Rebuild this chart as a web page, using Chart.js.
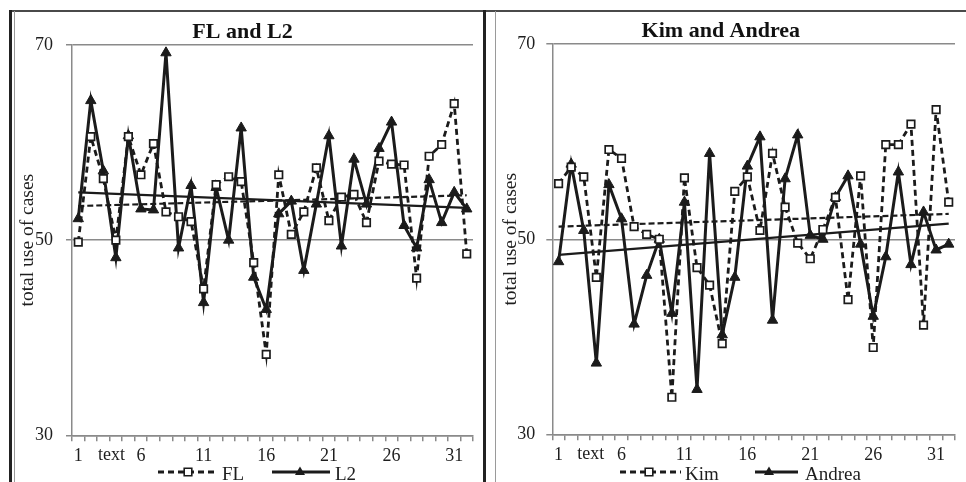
<!DOCTYPE html>
<html>
<head>
<meta charset="utf-8">
<script src="https://cdn.jsdelivr.net/npm/chart.js@4.4.1/dist/chart.umd.min.js"></script>
<style>
html,body{margin:0;padding:0;background:#fff;width:966px;height:482px;overflow:hidden;}
body{position:relative;}
.ln{position:absolute;}
#w1{position:absolute;left:12px;top:12px;width:470px;height:470px;}
#w2{position:absolute;left:486px;top:12px;width:476px;height:470px;}
</style>
</head>
<body>
<div class="ln" style="left:9px;top:10px;width:957px;height:1.5px;background:#4a4a4a"></div>
<div class="ln" style="left:9px;top:10px;width:2.5px;height:472px;background:#222"></div>
<div class="ln" style="left:14px;top:11px;width:1px;height:471px;background:#9a9a9a"></div>
<div class="ln" style="left:483px;top:10px;width:2.5px;height:472px;background:#222"></div>
<div class="ln" style="left:495px;top:11px;width:1px;height:471px;background:#9a9a9a"></div>
<div id="w1"><canvas id="c1" width="470" height="470"></canvas></div>
<div id="w2"><canvas id="c2" width="476" height="470"></canvas></div>
<script>
// ---------- data ----------
const categories = ['1','2','3','4','5','6','7','8','9','10','11','12','13','14','15','16',
                    '17','18','19','20','21','22','23','24','25','26','27','28','29','30','31','32'];
const tickLabels = ['1','','','','','6','','','','','11','','','','','16',
                    '','','','','21','','','','','26','','','','','31',''];
const axisNote = 'text';
const yTicks = [30, 50, 70];

const flValues = [49.8,60.6,56.3,50.0,60.6,56.7,59.9,52.9,52.4,51.9,45.0,55.7,56.5,56.0,47.7,38.3,
                  56.7,50.6,52.9,57.4,52.0,54.4,54.7,51.8,58.1,57.8,57.7,46.1,58.6,59.8,64.0,48.6];
const l2Values = [52.2,64.3,57.1,48.2,60.7,53.2,53.1,69.2,49.2,55.6,43.6,55.4,50.0,61.5,46.2,42.9,
                  52.7,54.0,46.9,53.7,60.7,49.4,58.3,53.7,59.4,62.1,51.5,49.2,56.2,51.8,54.9,53.2];
const kimValues = [55.7,57.4,56.4,46.1,59.2,58.3,51.3,50.5,50.0,33.8,56.3,47.1,45.3,39.3,54.9,56.4,
                   50.9,58.8,53.3,49.6,48.0,51.0,54.3,43.8,56.5,38.9,59.7,59.7,61.8,41.2,63.3,53.8];
const andreaValues = [47.7,57.7,50.9,37.3,55.6,52.1,41.3,46.3,50.0,42.4,53.8,34.6,58.8,40.2,46.1,57.5,
                      60.5,41.7,56.2,60.7,50.4,50.0,54.3,56.5,49.5,42.1,48.2,56.9,47.4,52.8,48.9,49.5];
// linear trend lines: value at first and last category
const trendFL = [53.5, 54.6];
const trendL2 = [54.9, 53.3];
const trendKim = [51.3, 52.6];
const trendAndrea = [48.4, 51.6];

// ---------- style ----------
const SERIF = '"Liberation Serif", "Times New Roman", serif';
const INK = '#1b1b1b';
const TXT = '#1e1e1e';
const GRID = '#8a8a8a';

function endsOnly(ends){
  const d = categories.map(() => null);
  d[0] = ends[0]; d[d.length - 1] = ends[1];
  return d;
}

function drawMarker(ctx, kind, x, y){
  ctx.save();
  ctx.setLineDash([]);
  if (kind === 'rect'){
    ctx.fillStyle = '#fff'; ctx.strokeStyle = INK; ctx.lineWidth = 1.6;
    ctx.beginPath(); ctx.rect(x - 3.8, y - 3.8, 7.6, 7.6); ctx.fill(); ctx.stroke();
  } else {
    ctx.fillStyle = INK;
    ctx.beginPath(); ctx.moveTo(x, y - 5.5); ctx.lineTo(x + 5, y + 3); ctx.lineTo(x - 5, y + 3); ctx.closePath(); ctx.fill();
  }
  ctx.restore();
}

const excelLegend = {
  id: 'excelLegend',
  afterDraw(chart, args, opts){
    const ctx = chart.ctx;
    ctx.save();
    opts.items.forEach(it => {
      ctx.strokeStyle = INK; ctx.lineWidth = 2.8;
      ctx.setLineDash(it.dash ? [6, 4] : []);
      ctx.beginPath(); ctx.moveTo(it.x0, opts.lineY); ctx.lineTo(it.x1, opts.lineY); ctx.stroke();
      drawMarker(ctx, it.marker, it.mx, opts.lineY);
      ctx.setLineDash([]);
      ctx.fillStyle = TXT; ctx.font = '19px ' + SERIF;
      ctx.textBaseline = 'middle'; ctx.textAlign = 'left';
      ctx.fillText(it.label, it.tx, opts.textY);
    });
    ctx.restore();
  }
};

const axisNotePlugin = {
  id: 'axisNote',
  afterDraw(chart, args, opts){
    const xs = chart.scales.x, ctx = chart.ctx;
    ctx.save();
    ctx.fillStyle = TXT; ctx.font = '18px ' + SERIF;
    ctx.textAlign = 'center'; ctx.textBaseline = 'middle';
    ctx.fillText(axisNote, xs.getPixelForValue(opts.at), chart.chartArea.bottom + opts.dy);
    ctx.restore();
  }
};

function makeChart(id, g, title, names, s1, s2, t1, t2, legendItems){
  return new Chart(document.getElementById(id), {
    type: 'line',
    data: {
      labels: categories,
      datasets: [
        { label: names[0], data: s1, borderColor: INK, borderWidth: 2.8, borderDash: [6, 4],
          pointStyle: 'rect', pointRadius: 5.3, pointBackgroundColor: '#fff', pointBorderColor: INK,
          pointBorderWidth: 1.7, tension: 0, order: 1 },
        { label: names[1], data: s2, borderColor: INK, borderWidth: 3,
          pointStyle: 'triangle', pointRadius: 6, pointBackgroundColor: INK, pointBorderColor: INK,
          pointBorderWidth: 1, tension: 0, order: 2 },
        { label: 'trend ' + names[0], data: endsOnly(t1), borderColor: INK, borderWidth: 2.2,
          borderDash: [6, 3], pointRadius: 0, spanGaps: true, order: 3 },
        { label: 'trend ' + names[1], data: endsOnly(t2), borderColor: INK, borderWidth: 2.2,
          pointRadius: 0, spanGaps: true, order: 4 }
      ]
    },
    options: {
      responsive: false, animation: false, devicePixelRatio: 1,
      layout: { padding: { left: 0, right: g.padR, top: 0, bottom: g.padB } },
      plugins: {
        legend: { display: false }, tooltip: { enabled: false },
        title: { display: true, text: title, color: '#111',
                 font: { family: SERIF, size: 22, weight: 'bold', lineHeight: 1.1 },
                 padding: { top: g.titleTop, bottom: 1 } },
        excelLegend: { items: legendItems, lineY: 460, textY: 463 },
        axisNote: { at: g.noteAt, dy: 20 }
      },
      scales: {
        x: {
          type: 'category', offset: true,
          afterFit(s){ s.height = 28; },
          grid: { offset: true, drawOnChartArea: false, drawTicks: true, tickLength: 6, color: GRID, lineWidth: 1.5 },
          border: { display: true, color: GRID, width: 1.5 },
          ticks: { autoSkip: false, maxRotation: 0, minRotation: 0, padding: 4, color: TXT,
                   font: { family: SERIF, size: 18 },
                   callback: (v, i) => tickLabels[i] }
        },
        y: {
          min: 30, max: 70,
          afterFit(s){ s.width = g.yW; },
          afterBuildTicks(s){ s.ticks = yTicks.map(v => ({ value: v })); },
          grid: { color: GRID, lineWidth: 1.5, drawTicks: true, tickLength: 6 },
          border: { display: true, color: GRID, width: 1.5 },
          ticks: { padding: g.tickPad, color: TXT, font: { family: SERIF, size: 18 } },
          title: { display: true, text: 'total use of cases', color: TXT,
                   font: { family: SERIF, size: 19.5 }, padding: { top: g.yTitlePad, bottom: 0 } }
        }
      }
    },
    plugins: [excelLegend, axisNotePlugin]
  });
}

makeChart('c1', { padR: 9, padB: 18.7, yW: 60, tickPad: 13, yTitlePad: 4.5, titleTop: 7.8, noteAt: 2.65 },
  'FL and L2', ['FL', 'L2'], flValues, l2Values, trendFL, trendL2,
  [ { label: 'FL', dash: true, marker: 'rect', x0: 146, x1: 206, mx: 176, tx: 210 },
    { label: 'L2', dash: false, marker: 'tri', x0: 260, x1: 318, mx: 288, tx: 323 } ]);

makeChart('c2', { padR: 6.3, padB: 19.7, yW: 66.3, tickPad: 11, yTitlePad: 13, titleTop: 7, noteAt: 2.55 },
  'Kim and Andrea', ['Kim', 'Andrea'], kimValues, andreaValues, trendKim, trendAndrea,
  [ { label: 'Kim', dash: true, marker: 'rect', x0: 134, x1: 195, mx: 163, tx: 199 },
    { label: 'Andrea', dash: false, marker: 'tri', x0: 269, x1: 312, mx: 283, tx: 319 } ]);
</script>
</body>
</html>
